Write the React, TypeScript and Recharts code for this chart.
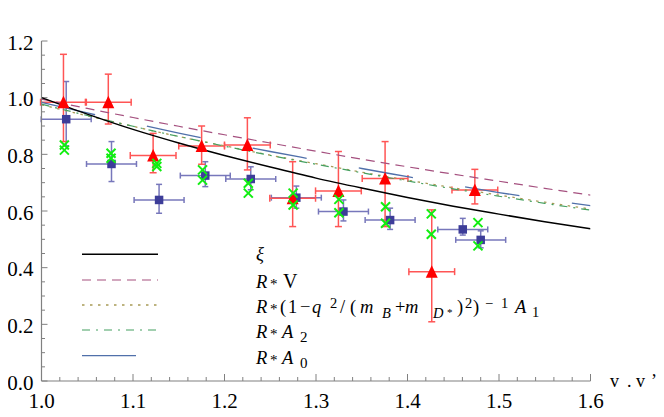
import { ComposedChart, ErrorBar, Line, ReferenceLine, Scatter, XAxis, YAxis } from "recharts";

// theory curves on a 0.05 grid
const curveX = [1.0, 1.05, 1.1, 1.15, 1.2, 1.25, 1.3, 1.35, 1.4, 1.45, 1.5, 1.55, 1.6];
const xiCurve = [1.0, 0.942, 0.888, 0.84, 0.796, 0.755, 0.716, 0.681, 0.648, 0.617, 0.589, 0.562, 0.537];
const rVCurve = [0.995, 0.962, 0.93, 0.899, 0.869, 0.84, 0.811, 0.783, 0.756, 0.73, 0.705, 0.68, 0.656];
const rA1Curve = [0.975, 0.936, 0.899, 0.863, 0.83, 0.797, 0.767, 0.737, 0.709, 0.682, 0.656, 0.631, 0.607];
const rA2Curve = [0.977, 0.937, 0.899, 0.863, 0.829, 0.796, 0.765, 0.735, 0.706, 0.678, 0.652, 0.627, 0.603];
const rA0Curve = [0.983, 0.946, 0.91, 0.875, 0.842, 0.81, 0.78, 0.75, 0.721, 0.692, 0.665, 0.641, 0.619];

// red triangles
const redX = [1.024, 1.073, 1.122, 1.175, 1.225, 1.2745, 1.3245, 1.3755, 1.4265, 1.4736];
const redY = [0.984, 0.984, 0.796, 0.829, 0.833, 0.645, 0.671, 0.715, 0.386, 0.674];
const redLo = [0.845, 0.907, 0.735, 0.765, 0.745, 0.545, 0.545, 0.545, 0.209, 0.625];
const redHi = [1.153, 1.083, 0.874, 0.9, 0.929, 0.774, 0.81, 0.845, 0.604, 0.747];
const redDx = 0.025;

// blue squares
const blueX = [1.027, 1.0765, 1.1285, 1.179, 1.2287, 1.2785, 1.33, 1.381, 1.4604, 1.48];
const blueY = [0.924, 0.766, 0.639, 0.725, 0.713, 0.647, 0.598, 0.568, 0.535, 0.498];
const blueLo = [0.83, 0.704, 0.592, 0.686, 0.675, 0.61, 0.565, 0.535, 0.515, 0.47];
const blueHi = [1.057, 0.845, 0.694, 0.774, 0.756, 0.688, 0.639, 0.61, 0.574, 0.53];
const blueDx = 0.0273;

// green crosses, two per bin
const greenX = [1.025, 1.076, 1.126, 1.176, 1.226, 1.275, 1.325, 1.376, 1.426, 1.477];
const greenUp = [0.833, 0.804, 0.768, 0.745, 0.698, 0.663, 0.641, 0.615, 0.59, 0.559];
const greenDn = [0.815, 0.786, 0.757, 0.709, 0.663, 0.621, 0.594, 0.557, 0.518, 0.477];

const xTicks = [1.0, 1.1, 1.2, 1.3, 1.4, 1.5, 1.6];
const yTicks = [0, 0.2, 0.4, 0.6, 0.8, 1.0, 1.2];
// small inward tick marks: x every 0.02, y every 0.05
const xMarks = Array.from({ length: 31 }, (_, i) => +(1 + i * 0.02).toFixed(2));
const yMarks = Array.from({ length: 25 }, (_, i) => +(i * 0.05).toFixed(2));

const AXIS = "#808080";
const C_XI = "#000000";
const C_RV = "#a5507f";
const C_RA1 = "#a89a55";
const C_RA2 = "#45a060";
const C_RA0 = "#5070aa";
const D_RV = "9 6";
const D_RA1 = "2.5 5.5";
const D_RA2 = "8 6 2 6";
const D_RA0 = "55 53";

const curveRows = curveX.map((x, i) => ({
  x,
  xi: xiCurve[i],
  rV: rVCurve[i],
  rA1: rA1Curve[i],
  rA2: rA2Curve[i],
  rA0: rA0Curve[i],
}));
const redRows = redX.map((x, i) => ({
  x,
  y: redY[i],
  ex: redDx,
  ey: [redY[i] - redLo[i], redHi[i] - redY[i]],
}));
const blueRows = blueX.map((x, i) => ({
  x,
  y: blueY[i],
  ex: blueDx,
  ey: [blueY[i] - blueLo[i], blueHi[i] - blueY[i]],
}));
const greenRows = [
  ...greenX.map((x, i) => ({ x, y: greenUp[i] })),
  ...greenX.map((x, i) => ({ x, y: greenDn[i] })),
];

const onStep = (v: number, step: number) => Math.abs(v / step - Math.round(v / step)) < 1e-6;

const Triangle = (p: any) => (
  <polygon
    points={`${p.cx},${p.cy - 6.5} ${p.cx - 6},${p.cy + 6} ${p.cx + 6},${p.cy + 6}`}
    fill="#ff0000"
  />
);
const Square = (p: any) => (
  <rect x={p.cx - 4.25} y={p.cy - 4.25} width={8.5} height={8.5} fill="#3d3d99" />
);
const Cross = (p: any) => (
  <g stroke="#11ee11" strokeWidth={2}>
    <line x1={p.cx - 4.5} y1={p.cy - 4.5} x2={p.cx + 4.5} y2={p.cy + 4.5} />
    <line x1={p.cx - 4.5} y1={p.cy + 4.5} x2={p.cx + 4.5} y2={p.cy - 4.5} />
  </g>
);

const XTick = (p: any) => (
  <text x={p.x} y={p.y + 27} textAnchor="middle" fontSize={21} fill="#000">
    {Number(p.payload.value).toFixed(1)}
  </text>
);
const YTick = (p: any) => (
  <text x={p.x - 8} y={p.y + 8.5} textAnchor="end" fontSize={21} fill="#000">
    {Number(p.payload.value).toFixed(1)}
  </text>
);

function T({ x, y, size = 18.5, it = false, children }: any) {
  return (
    <text x={x} y={y} fontSize={size} fill="#000" fontStyle={it ? "italic" : "normal"}>
      {children}
    </text>
  );
}

function Overlay() {
  const rows = [
    { y: 254.3, stroke: C_XI, dash: undefined, x2: 158, w: 1.5 },
    { y: 280, stroke: C_RV, dash: D_RV, x2: 158, w: 1.2 },
    { y: 305, stroke: C_RA1, dash: D_RA1, x2: 158, w: 1.3 },
    { y: 330, stroke: C_RA2, dash: D_RA2, x2: 158, w: 1.2 },
    { y: 355.7, stroke: C_RA0, dash: undefined, x2: 136, w: 1.3 },
  ];
  const b3 = 313;
  return (
    <svg width={664} height={417} style={{ position: "absolute", left: 0, top: 0, pointerEvents: "none" }}>
      {rows.map((r) => (
        <line key={r.y} x1={82} x2={r.x2} y1={r.y} y2={r.y} stroke={r.stroke} strokeWidth={r.w} strokeDasharray={r.dash} />
      ))}
      <T x={256} y={260} it>ξ</T>

      <T x={256} y={288} it>R</T>
      <T x={270} y={289} size={15}>*</T>
      <T x={283} y={288} size={20}>V</T>

      <T x={256} y={b3} it>R</T>
      <T x={270} y={b3 + 1} size={15}>*</T>
      <T x={280} y={b3}>(</T>
      <T x={288} y={b3}>1</T>
      <T x={300} y={b3}>−</T>
      <T x={312} y={b3} it>q</T>
      <T x={330} y={b3 - 5} size={14.5}>2</T>
      <T x={340} y={b3}>/</T>
      <T x={350} y={b3}>(</T>
      <T x={360} y={b3} it>m</T>
      <T x={382} y={b3 + 5} size={14.5} it>B</T>
      <T x={395} y={b3}>+</T>
      <T x={405} y={b3} it>m</T>
      <T x={433} y={b3 + 5} size={14.5} it>D</T>
      <T x={447} y={b3 + 2.5} size={11}>*</T>
      <T x={457} y={b3}>)</T>
      <T x={465} y={b3 - 5} size={14.5}>2</T>
      <T x={473} y={b3}>)</T>
      <T x={485} y={b3 - 5} size={14.5}>−</T>
      <T x={501} y={b3 - 5} size={14.5}>1</T>
      <T x={515} y={b3} it>A</T>
      <T x={532} y={b3 + 4} size={14.5}>1</T>

      <T x={256} y={338} it>R</T>
      <T x={270} y={339} size={15}>*</T>
      <T x={282} y={338} it>A</T>
      <T x={300} y={342} size={15}>2</T>

      <T x={256} y={363.5} it>R</T>
      <T x={270} y={364.5} size={15}>*</T>
      <T x={282} y={363.5} it>A</T>
      <T x={300} y={367.5} size={15}>0</T>

      <T x={610} y={387} size={18}>v</T>
      <T x={627} y={387} size={18}>.</T>
      <T x={636} y={387} size={18}>v</T>
      <T x={651} y={387} size={18}>’</T>
    </svg>
  );
}

export default function App() {
  return (
    <div style={{ position: "relative", width: 664, height: 417, margin: -8 }}>
      <ComposedChart
        width={664}
        height={417}
        data={curveRows}
        margin={{ top: 41, right: 73.5, bottom: 0, left: 0 }}
      >
        <XAxis
          type="number"
          dataKey="x"
          domain={[1, 1.6]}
          ticks={xTicks}
          interval={0}
          allowDataOverflow
          height={36}
          tickSize={0}
          tickMargin={0}
          tickLine={false}
          axisLine={{ stroke: AXIS, strokeWidth: 1.2 }}
          tick={XTick}
        />
        <YAxis
          type="number"
          domain={[0, 1.2]}
          ticks={yTicks}
          interval={0}
          allowDataOverflow
          width={41.5}
          tickSize={0}
          tickMargin={0}
          tickLine={false}
          axisLine={{ stroke: AXIS, strokeWidth: 1.2 }}
          tick={YTick}
        />

        {xMarks.map((v) => (
          <ReferenceLine
            key={`xm${v}`}
            segment={[{ x: v, y: 0 }, { x: v, y: onStep(v, 0.1) ? 0.0247 : 0.0141 }]}
            stroke={AXIS}
            strokeWidth={1}
            ifOverflow="visible"
          />
        ))}
        {yMarks.map((v) => (
          <ReferenceLine
            key={`ym${v}`}
            segment={[{ x: 1, y: v }, { x: onStep(v, 0.2) ? 1.00656 : 1.00383, y: v }]}
            stroke={AXIS}
            strokeWidth={1}
            ifOverflow="visible"
          />
        ))}

        <Scatter data={blueRows} dataKey="y" shape={Square} isAnimationActive={false}>
          <ErrorBar direction="x" dataKey="ex" width={3} stroke="#7777bb" strokeWidth={1.5} />
          <ErrorBar direction="y" dataKey="ey" width={3} stroke="#7777bb" strokeWidth={1.5} />
        </Scatter>
        <Scatter data={redRows} dataKey="y" shape={Triangle} isAnimationActive={false}>
          <ErrorBar direction="x" dataKey="ex" width={3.5} stroke="#ff5555" strokeWidth={1.5} />
          <ErrorBar direction="y" dataKey="ey" width={3.5} stroke="#ff5555" strokeWidth={1.5} />
        </Scatter>
        <Scatter data={greenRows} dataKey="y" shape={Cross} isAnimationActive={false} />

        <Line type="monotone" dataKey="rV" stroke={C_RV} strokeWidth={1.2} strokeDasharray={D_RV} dot={false} activeDot={false} isAnimationActive={false} />
        <Line type="monotone" dataKey="rA1" stroke={C_RA1} strokeWidth={1.3} strokeDasharray={D_RA1} dot={false} activeDot={false} isAnimationActive={false} />
        <Line type="monotone" dataKey="rA2" stroke={C_RA2} strokeWidth={1.2} strokeDasharray={D_RA2} dot={false} activeDot={false} isAnimationActive={false} />
        <Line type="monotone" dataKey="rA0" stroke={C_RA0} strokeWidth={1.3} strokeDasharray={D_RA0} dot={false} activeDot={false} isAnimationActive={false} />
        <Line type="monotone" dataKey="xi" stroke={C_XI} strokeWidth={1.5} dot={false} activeDot={false} isAnimationActive={false} />
      </ComposedChart>
      <Overlay />
    </div>
  );
}
